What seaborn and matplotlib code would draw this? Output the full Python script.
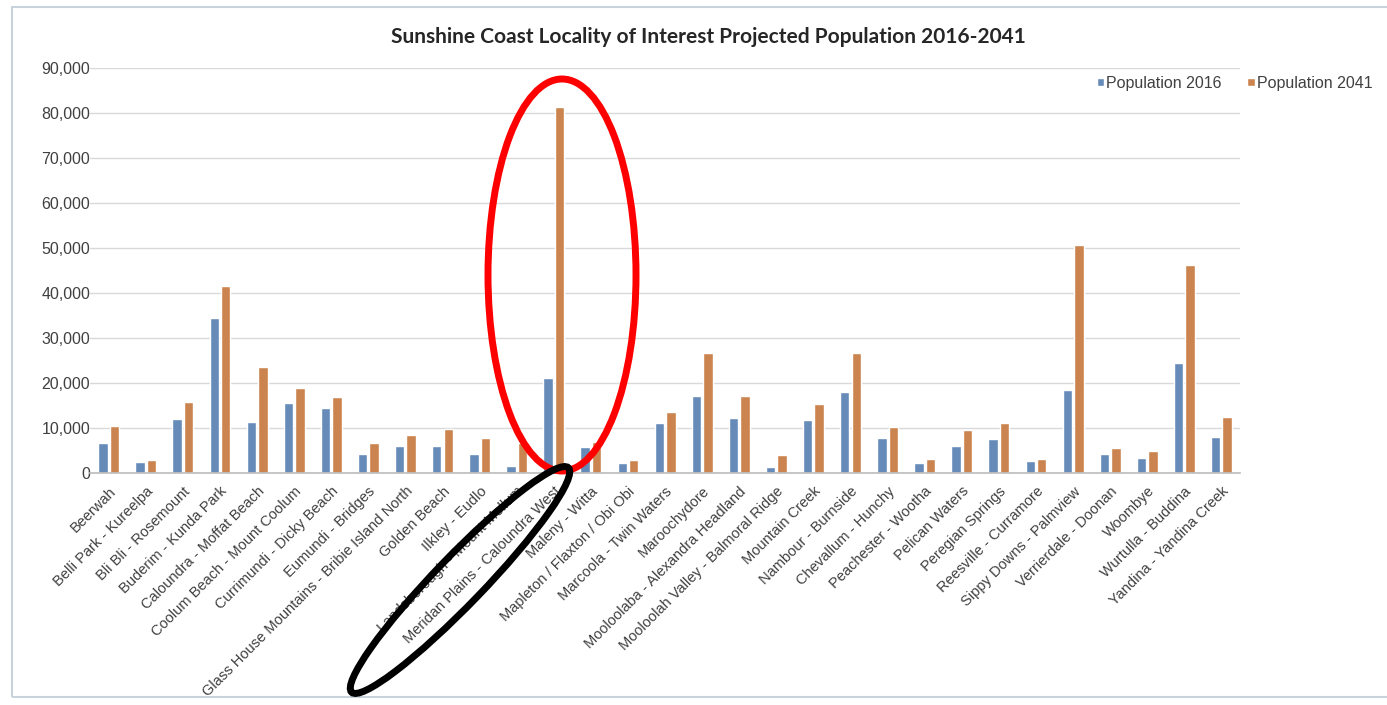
import pandas as pd
import seaborn as sns
import matplotlib.pyplot as plt
from matplotlib.patches import Ellipse, Rectangle
from matplotlib.transforms import IdentityTransform
from matplotlib.ticker import FuncFormatter

# Localities along the x axis
localities = [
    "Beerwah", "Belli Park - Kureelpa", "Bli Bli - Rosemount", "Buderim - Kunda Park",
    "Caloundra - Moffat Beach", "Coolum Beach - Mount Coolum", "Currimundi - Dicky Beach",
    "Eumundi - Bridges", "Glass House Mountains - Bribie Island North", "Golden Beach",
    "Ilkley - Eudlo", "Landsborough - Mount Mellum", "Meridan Plains - Caloundra West",
    "Maleny - Witta", "Mapleton / Flaxton / Obi Obi", "Marcoola - Twin Waters",
    "Maroochydore", "Mooloolaba - Alexandra Headland", "Mooloolah Valley - Balmoral Ridge",
    "Mountain Creek", "Nambour - Burnside", "Chevallum - Hunchy", "Peachester - Wootha",
    "Pelican Waters", "Peregian Springs", "Reesville - Curramore", "Sippy Downs - Palmview",
    "Verrierdale - Doonan", "Woombye", "Wurtulla - Buddina", "Yandina - Yandina Creek",
]

pop_2016 = [6700, 2400, 12000, 34400, 11300, 15500, 14400, 4200, 6000, 6000,
            4200, 1500, 21000, 5800, 2300, 11200, 17000, 12200, 1400, 11800,
            18000, 7800, 2200, 6000, 7600, 2700, 18400, 4200, 3300, 24500, 8000]

pop_2041 = [10400, 2800, 15800, 41500, 23500, 18900, 16900, 6700, 8400, 9800,
            7800, 6700, 81300, 6900, 2800, 13600, 26700, 17000, 4000, 15300,
            26700, 10300, 3100, 9600, 11100, 3100, 50700, 5600, 4800, 46200, 12400]

series_names = ["Population 2016", "Population 2041"]
colors = ["#5a8ac6", "#e0803a"]

df = pd.DataFrame({
    "locality": localities * 2,
    "population": pop_2016 + pop_2041,
    "series": [series_names[0]] * len(localities) + [series_names[1]] * len(localities),
})

sns.set_theme(style="white")
plt.rcParams['font.family'] = ['Liberation Sans', 'DejaVu Sans']

fig = plt.figure(figsize=(13.87, 7.05), dpi=100)
ax = fig.add_axes([0.065, 0.329, 0.829, 0.575])

sns.barplot(data=df, x="locality", y="population", hue="series",
            palette=colors, width=0.62, gap=0.18, ax=ax, legend=True)

ax.set_ylim(0, 90000)
ax.set_xlim(-0.5, len(localities) - 0.5)
ax.set_yticks(range(0, 90001, 10000))
ax.yaxis.set_major_formatter(FuncFormatter(lambda v, p: f"{int(v):,}"))
ax.yaxis.grid(True, color="#d9d9d9", linewidth=1)
ax.set_axisbelow(True)
for side in ["top", "right", "left"]:
    ax.spines[side].set_visible(False)
ax.spines["bottom"].set_color("#bfbfbf")
ax.set_xlabel("")
ax.set_ylabel("")
ax.tick_params(axis="y", labelsize=11.5, colors="#404040", pad=0, length=0)
ax.tick_params(axis="x", labelsize=10.5, colors="#404040", pad=2)
plt.setp(ax.get_xticklabels(), rotation=45, ha="right", rotation_mode="anchor")

fig.text(0.511, 0.948, "Sunshine Coast Locality of Interest Projected Population 2016-2041",
         ha="center", va="center", fontsize=15, fontweight="bold", color="#262626",
         family=["Lato", "DejaVu Sans"])

ax.legend(loc="center right", bbox_to_anchor=(1.0, 0.882), bbox_transform=fig.transFigure,
          ncol=2, frameon=False, fontsize=11.5, handlelength=0.45, handleheight=0.45,
          handletextpad=0.15, columnspacing=1.6, labelcolor="#404040")

# light frame around the chart
fig.patches.append(Rectangle((12, 8), 1387, 690, transform=IdentityTransform(),
                             fill=False, edgecolor="#c9d3dc", linewidth=1.5))

# hand-drawn annotations
fig.patches.append(Ellipse((562, 705 - 275), 148, 392, transform=IdentityTransform(),
                           fill=False, edgecolor="#ff0000", linewidth=5))
fig.patches.append(Ellipse((460, 705 - 580), 312, 48, angle=46, transform=IdentityTransform(),
                           fill=False, edgecolor="black", linewidth=5))

fig.savefig("out.png", dpi=100)
